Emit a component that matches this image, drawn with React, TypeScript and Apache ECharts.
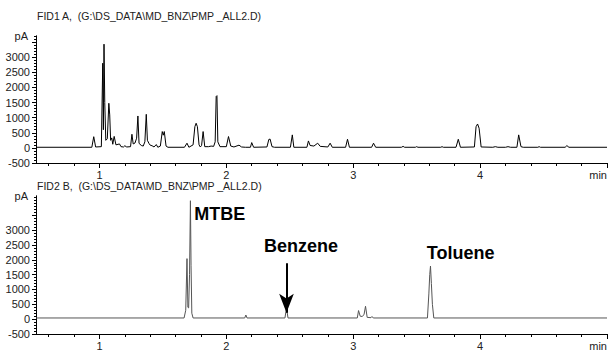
import React, { useEffect, useRef } from "react";
import * as echarts from "echarts";

// ---- Data ----
const TITLE_TOP = "FID1 A,  (G:\\DS_DATA\\MD_BNZ\\PMP _ALL2.D)";
const TITLE_BOTTOM = "FID2 B,  (G:\\DS_DATA\\MD_BNZ\\PMP _ALL2.D)";

// FID1 A trace: [time (min), signal (pA)]
const fid1: [number, number][] = [
  [0.5, 20], [0.94, 20], [0.955, 370], [0.97, 30],
  [1.015, 40], [1.026, 2800], [1.031, 600], [1.036, 3430], [1.042, 1500], [1.05, 250],
  [1.062, 300], [1.074, 1475], [1.081, 1090], [1.088, 250], [1.097, 330], [1.105, 120],
  [1.116, 380], [1.13, 100], [1.158, 130], [1.17, 40], [1.19, 30], [1.2, 70], [1.215, 30],
  [1.245, 40], [1.256, 450], [1.266, 130], [1.28, 160], [1.293, 320], [1.303, 1055],
  [1.312, 150], [1.33, 80], [1.345, 60], [1.358, 200], [1.369, 1110], [1.378, 250],
  [1.39, 150], [1.40, 90], [1.415, 70], [1.43, 30], [1.448, 110], [1.46, 20],
  [1.48, 60], [1.495, 540], [1.503, 420], [1.511, 540], [1.525, 60], [1.54, 20],
  [1.67, 20], [1.69, 155], [1.705, 20], [1.738, 100], [1.752, 700], [1.762, 815],
  [1.772, 700], [1.785, 100], [1.795, 30], [1.805, 80], [1.817, 540], [1.83, 40],
  [1.86, 40], [1.88, 60], [1.9, 50], [1.912, 200], [1.92, 1700], [1.926, 1727],
  [1.933, 200], [1.95, 40],
  [2.0, 40], [2.017, 375], [2.035, 60], [2.06, 30], [2.1, 90], [2.12, 30], [2.15, 20],
  [2.19, 20], [2.2, 175], [2.215, 20], [2.32, 30], [2.335, 280], [2.345, 290], [2.36, 40],
  [2.38, 20], [2.505, 20], [2.52, 430], [2.532, 20], [2.635, 20], [2.647, 230],
  [2.66, 80], [2.69, 60], [2.72, 155], [2.74, 50], [2.8, 30], [2.818, 155], [2.835, 20],
  [2.94, 20], [2.955, 285], [2.97, 20], [3.145, 20], [3.16, 155], [3.177, 20],
  [3.38, 20], [3.393, 50], [3.405, 20], [3.49, 20], [3.5, 40], [3.51, 20],
  [3.69, 20], [3.7, 40], [3.71, 20], [3.81, 20], [3.828, 285], [3.845, 20],
  [3.955, 30], [3.968, 700], [3.98, 790], [3.992, 650], [4.008, 30],
  [4.1, 20], [4.12, 40], [4.14, 20], [4.2, 20], [4.22, 40], [4.24, 20],
  [4.29, 20], [4.304, 430], [4.322, 40], [4.34, 20], [4.455, 20], [4.465, 40],
  [4.475, 20], [4.67, 20], [4.684, 75], [4.7, 20], [5.0, 20],
];

// FID2 B trace
const fid2: [number, number][] = [
  [0.5, 40], [1.667, 40], [1.68, 300], [1.69, 2040], [1.697, 400], [1.703, 380],
  [1.71, 1500], [1.717, 3990], [1.722, 1800], [1.728, 200], [1.738, 40],
  [2.145, 40], [2.154, 140], [2.163, 40],
  [2.462, 40], [2.474, 380], [2.486, 40],
  [3.032, 40], [3.042, 290], [3.055, 100], [3.07, 90], [3.085, 150], [3.097, 435],
  [3.11, 60], [3.14, 50], [3.148, 90], [3.158, 40],
  [3.585, 40], [3.596, 850], [3.603, 1500], [3.609, 1790], [3.616, 1200],
  [3.624, 500], [3.635, 40], [5.0, 40],
];

// Peak annotations [time, pA, text]
const peakLabels: [number, number, string][] = [
  [1.949, 3540, "MTBE"],
  [2.589, 2458, "Benzene"],
  [3.846, 2220, "Toluene"],
];
// Arrow for Benzene: [time, fromPA, toPA]
const benzeneArrow: [number, number, number] = [2.474, 1880, 220];

// Axes
const X_MIN = 0.5;
const X_MAX = 5.0;
const X_LABELS = [1, 2, 3, 4, 5];
const X_MINOR: number[] = [];
for (let v = 6; v <= 50; v += 2) X_MINOR.push(v / 10);
const Y_LABELS = [-500, 0, 500, 1000, 1500, 2000, 2500, 3000];
const Y_MAJOR = [-500, 0, 500, 1000, 1500, 2000, 2500, 3000, 3500];
const Y_MIN = -500;
const Y_MAX_TOP = 3700;
const Y_MAX_BOTTOM = 4150;
const yMinor = (max: number) => {
  const r: number[] = [];
  for (let v = -500; v <= max; v += 100) r.push(v);
  return r;
};

const FONT = "Liberation Sans, Arial, sans-serif";
const TXT = "#222";

export default function App() {
  const ref = useRef<HTMLDivElement>(null);
  useEffect(() => {
    if (!ref.current) return;
    const chart = echarts.init(ref.current, undefined, { renderer: "svg" });

    const grids = [
      { left: 36, top: 36, width: 573, height: 127 },
      { left: 36, top: 196, width: 573, height: 138 },
    ];

    const mainX = (gi: number) => ({
      type: "value",
      gridIndex: gi,
      min: X_MIN,
      max: X_MAX,
      position: "bottom",
      axisLine: { show: true, onZero: false, lineStyle: { color: "#000", width: 1 } },
      axisTick: { show: true, length: 5, customValues: X_LABELS, lineStyle: { color: "#000" } },
      axisLabel: {
        show: true,
        customValues: X_LABELS,
        formatter: (v: number) => (v === 5 ? "min" : String(v)),
        alignMaxLabel: "right",
        fontSize: 11,
        fontFamily: FONT,
        color: TXT,
        margin: 6,
      },
      splitLine: { show: false },
    });
    const minorX = (gi: number) => ({
      type: "value",
      gridIndex: gi,
      min: X_MIN,
      max: X_MAX,
      position: "bottom",
      offset: 0,
      axisLine: { show: true, onZero: false, lineStyle: { color: "#000", width: 1 } },
      axisTick: { show: true, length: 3, customValues: X_MINOR, lineStyle: { color: "#000" } },
      axisLabel: { show: false },
      splitLine: { show: false },
    });
    const mainY = (gi: number, max: number) => ({
      type: "value",
      gridIndex: gi,
      min: Y_MIN,
      max,
      position: "left",
      name: "pA",
      nameLocation: "end",
      nameGap: 0,
      nameTextStyle: {
        align: "right",
        verticalAlign: "middle",
        padding: [0, 8, 0, 0],
        fontSize: 11,
        fontFamily: FONT,
        color: TXT,
      },
      axisLine: { show: true, onZero: false, lineStyle: { color: "#000", width: 1 } },
      axisTick: { show: true, length: 4, customValues: Y_MAJOR, lineStyle: { color: "#000" } },
      axisLabel: {
        show: true,
        customValues: Y_LABELS,
        formatter: (v: number) => String(v),
        fontSize: 11,
        fontFamily: FONT,
        color: TXT,
        margin: 6,
      },
      splitLine: { show: false },
    });
    const minorY = (gi: number, max: number) => ({
      type: "value",
      gridIndex: gi,
      min: Y_MIN,
      max,
      position: "left",
      offset: 0,
      axisLine: { show: true, onZero: false, lineStyle: { color: "#000", width: 1 } },
      axisTick: { show: true, length: 2, customValues: yMinor(max), lineStyle: { color: "#000" } },
      axisLabel: { show: false },
      splitLine: { show: false },
    });

    const option: any = {
      animation: false,
      backgroundColor: "#fff",
      textStyle: { fontFamily: FONT },
      title: [
        {
          text: TITLE_TOP,
          left: 37,
          top: 10,
          padding: 0,
          textStyle: { fontSize: 10.5, fontWeight: "normal", color: TXT, fontFamily: FONT },
        },
        {
          text: TITLE_BOTTOM,
          left: 37,
          top: 180,
          padding: 0,
          textStyle: { fontSize: 10.5, fontWeight: "normal", color: TXT, fontFamily: FONT },
        },
      ],
      grid: grids,
      xAxis: [mainX(0), minorX(0), mainX(1), minorX(1)],
      yAxis: [
        mainY(0, Y_MAX_TOP),
        minorY(0, Y_MAX_TOP),
        mainY(1, Y_MAX_BOTTOM),
        minorY(1, Y_MAX_BOTTOM),
      ],
      series: [
        {
          type: "line",
          xAxisIndex: 0,
          yAxisIndex: 0,
          data: fid1,
          showSymbol: false,
          silent: true,
          lineStyle: { color: "#000", width: 1 },
        },
        {
          type: "line",
          xAxisIndex: 2,
          yAxisIndex: 2,
          data: fid2,
          showSymbol: false,
          silent: true,
          lineStyle: { color: "#555", width: 1 },
          markPoint: {
            symbol: "circle",
            symbolSize: 0,
            silent: true,
            itemStyle: { color: "transparent" },
            label: {
              show: true,
              position: "inside",
              formatter: "{b}",
              color: "#000",
              fontWeight: "bold",
              fontSize: 18,
              fontFamily: FONT,
            },
            data: peakLabels.map(([t, v, name]) => ({ name, coord: [t, v] })),
          },
          markLine: {
            silent: true,
            symbol: ["none", "arrow"],
            symbolSize: [11, 19],
            label: { show: false },
            lineStyle: { color: "#000", width: 2, type: "solid" },
            data: [
              [
                { coord: [benzeneArrow[0], benzeneArrow[1]] },
                { coord: [benzeneArrow[0], benzeneArrow[2]] },
              ],
            ],
          },
        },
      ],
    };
    chart.setOption(option);
    return () => chart.dispose();
  }, []);
  return (
    <div
      ref={ref}
      style={{ position: "fixed", left: 0, top: 0, width: 610, height: 352, background: "#fff" }}
    />
  );
}
